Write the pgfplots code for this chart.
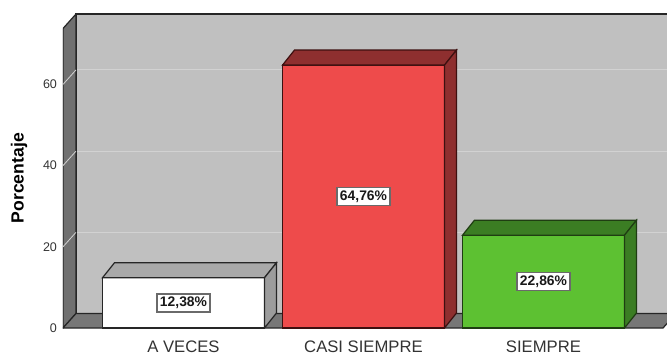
\documentclass[border=0pt]{standalone}
\usepackage{pgfplots}
\pgfplotsset{compat=1.18}
\usepackage{fontspec}
\setmainfont{Liberation Sans}
\definecolor{backwall}{HTML}{C0C0C0}
\definecolor{sidewall}{HTML}{707070}
\definecolor{floorc}{HTML}{777777}
\definecolor{gridc}{HTML}{D2D2D2}
\definecolor{wtop}{HTML}{A9A9A9}
\definecolor{wside}{HTML}{9C9C9C}
\definecolor{redf}{HTML}{EE4B4B}
\definecolor{redd}{HTML}{8E2F2F}
\definecolor{redl}{HTML}{3D1010}
\definecolor{greenf}{HTML}{5DC132}
\definecolor{greend}{HTML}{3B7D23}
\definecolor{greenl}{HTML}{1F3D12}
\definecolor{lblborder}{HTML}{6A6A6A}
\begin{document}
\begin{tikzpicture}
\begin{axis}[
  x=0.75pt, y=3.045pt,
  xmin=63, xmax=667, ymin=0, ymax=77.4,
  enlargelimits=false,
  axis line style={draw=none},
  tick style={draw=none},
  major tick length=0pt,
  xtick={183.5,363.5,543.5},
  xticklabels={A VECES, CASI SIEMPRE, SIEMPRE},
  ytick={0,20,40,60},
  /pgf/number format/assume math mode=true,
  xticklabel style={font=\fontsize{12.5}{14}\selectfont, text=black!80, yshift=-6pt},
  yticklabel style={font=\fontsize{9.4}{11}\selectfont, text=black!80, xshift=-1pt},
  ylabel={Porcentaje},
  ylabel style={font=\bfseries\fontsize{13.2}{15}\selectfont, at={(axis description cs:-0.0728,0.4768)}, anchor=center},
]
% back wall
\addplot[fill=backwall, draw=none] coordinates {(76,3.57) (680,3.57) (680,77.34) (76,77.34)} -- cycle;
% grid lines on back wall
\addplot[gridc, line width=0.8pt] coordinates {(76,23.57) (680,23.57)};
\addplot[gridc, line width=0.8pt] coordinates {(76,43.57) (680,43.57)};
\addplot[gridc, line width=0.8pt] coordinates {(76,63.57) (680,63.57)};
% back wall outline
\addplot[black!85, line width=0.9pt] coordinates {(76,3.57) (76,77.34) (680,77.34)};
% left side wall
\addplot[fill=sidewall, draw=black!85, line width=0.9pt] coordinates {(63,0) (76,3.57) (76,77.34) (63,73.77)} -- cycle;
\addplot[gridc, line width=0.6pt] coordinates {(63,20) (76,23.57)};
\addplot[gridc, line width=0.6pt] coordinates {(63,40) (76,43.57)};
\addplot[gridc, line width=0.6pt] coordinates {(63,60) (76,63.57)};
% floor
\addplot[fill=floorc, draw=black!85, line width=0.9pt] coordinates {(63,0) (663,0) (676,3.57) (76,3.57)} -- cycle;
% bar A VECES (12.38)
\addplot[fill=white, draw=black!85, line width=0.9pt] coordinates {(102.5,0) (264.5,0) (264.5,12.38) (102.5,12.38)} -- cycle;
\addplot[fill=wtop, draw=black!85, line width=0.9pt] coordinates {(102.5,12.38) (264.5,12.38) (276.5,16.08) (114.5,16.08)} -- cycle;
\addplot[fill=wside, draw=black!85, line width=0.9pt] coordinates {(264.5,0) (276.5,3.7) (276.5,16.08) (264.5,12.38)} -- cycle;
% bar CASI SIEMPRE (64.76)
\addplot[fill=redf, draw=redl, line width=0.9pt] coordinates {(282.5,0) (444.5,0) (444.5,64.76) (282.5,64.76)} -- cycle;
\addplot[fill=redd, draw=redl, line width=0.9pt] coordinates {(282.5,64.76) (444.5,64.76) (456.5,68.46) (294.5,68.46)} -- cycle;
\addplot[fill=redd, draw=redl, line width=0.9pt] coordinates {(444.5,0) (456.5,3.7) (456.5,68.46) (444.5,64.76)} -- cycle;
% bar SIEMPRE (22.86)
\addplot[fill=greenf, draw=greenl, line width=0.9pt] coordinates {(462.5,0) (624.5,0) (624.5,22.86) (462.5,22.86)} -- cycle;
\addplot[fill=greend, draw=greenl, line width=0.9pt] coordinates {(462.5,22.86) (624.5,22.86) (636.5,26.56) (474.5,26.56)} -- cycle;
\addplot[fill=greend, draw=greenl, line width=0.9pt] coordinates {(624.5,0) (636.5,3.7) (636.5,26.56) (624.5,22.86)} -- cycle;
% value labels
\addplot[draw=none, mark=none, nodes near coords, point meta=explicit symbolic,
  nodes near coords style={anchor=center, fill=white, draw=lblborder, line width=1.1pt,
    font=\bfseries\fontsize{10.4}{12}\selectfont, text=black!90, inner xsep=2.2pt, inner ysep=2.4pt}]
  coordinates {(183.5,6.19) [12,38\%] (363.5,32.38) [64,76\%] (543.5,11.43) [22,86\%]};
\coordinate (BL) at (axis cs:0,-6.40);
\coordinate (TR) at (axis cs:667,80.79);
\end{axis}
\pgfresetboundingbox
\path (BL) rectangle (TR);
\end{tikzpicture}
\end{document}
